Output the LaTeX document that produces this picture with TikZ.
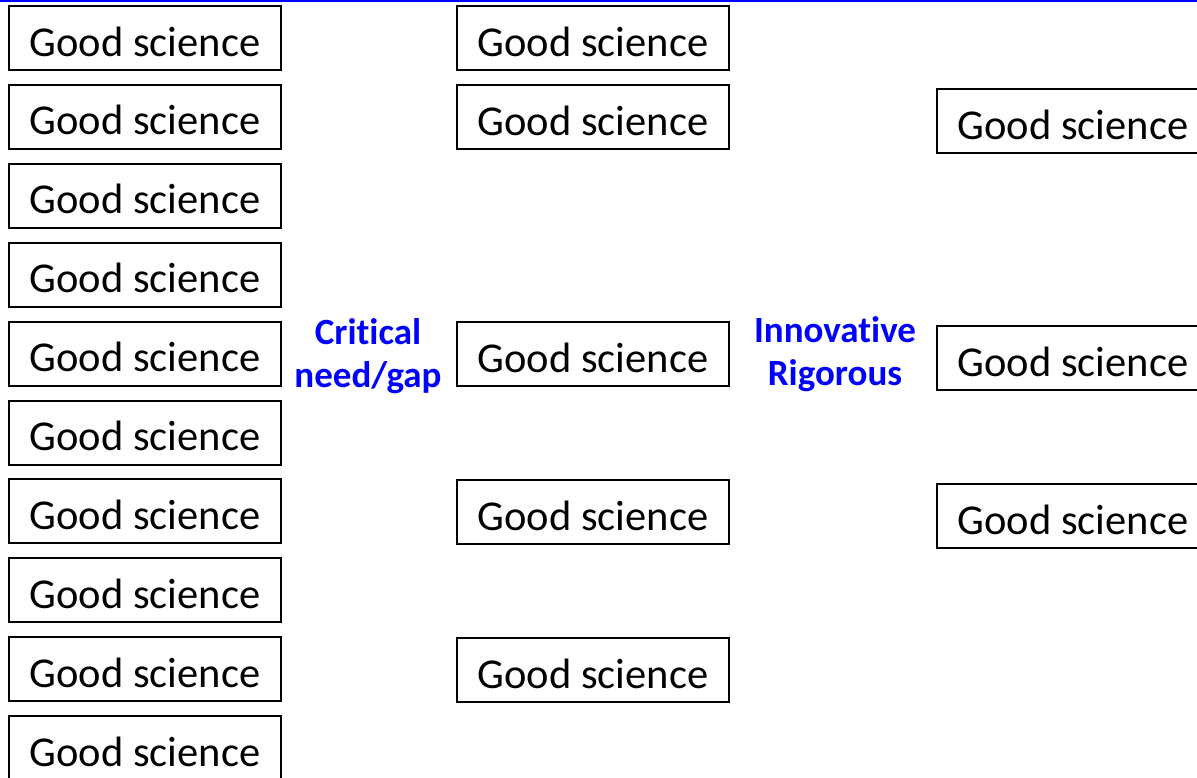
\documentclass[tikz,border=0pt]{standalone}
\usepackage{fontspec}
\setmainfont{Carlito}[Ligatures=NoCommon]
\definecolor{labelblue}{RGB}{0,0,255}
\tikzset{
  gsbox/.style={draw=black, line width=2pt, rectangle, inner sep=0pt,
    minimum width=272pt, text height=50pt, text depth=14pt,
    font=\fontsize{42.5pt}{50pt}\selectfont, anchor=north west},
  bluelabel/.style={text=labelblue, font=\fontsize{37pt}{43pt}\selectfont\bfseries,
    align=center, inner sep=0pt, anchor=center}
}
\begin{document}
\begin{tikzpicture}[x=1pt,y=-1pt]
\useasboundingbox (0,0) rectangle (1197,777);
\clip (0,0) rectangle (1197,777);
\draw[labelblue, line width=2pt] (0,1) -- (1197,1);
% left column
\foreach \i in {0,...,9} {
  \node[gsbox] (L\i) at (8,{5+\i*78.9}) {Good science};
}
% middle column
\node[gsbox] (M1) at (456,5) {Good science};
\node[gsbox] (M2) at (456,84) {Good science};
\node[gsbox] (M3) at (456,321) {Good science};
\node[gsbox] (M4) at (456,479) {Good science};
\node[gsbox] (M5) at (456,637) {Good science};
% right column
\node[gsbox] (R1) at (936,88) {Good science};
\node[gsbox] (R2) at (936,325) {Good science};
\node[gsbox] (R3) at (936,483) {Good science};
% labels
\node[bluelabel] (crit) at (368,356) {Critical\\need/gap};
\node[bluelabel] (inno) at (835,354) {Innovative\\Rigorous};
\end{tikzpicture}
\end{document}
